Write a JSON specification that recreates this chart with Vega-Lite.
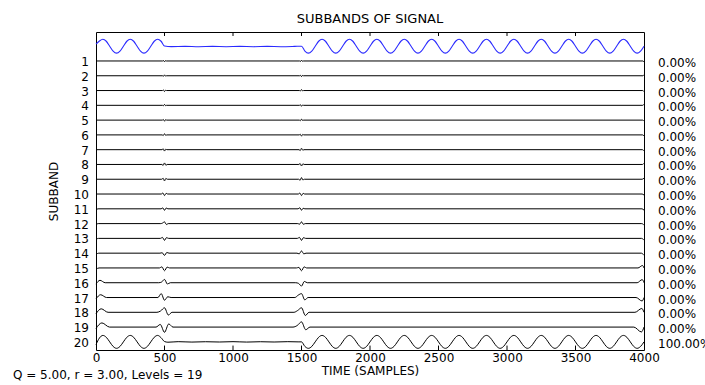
{
  "$schema": "https://vega.github.io/schema/vega-lite/v6.json",
  "autosize": {"type": "none"},
  "width": 548,
  "height": 318,
  "padding": {"left": 96, "top": 32, "right": 61, "bottom": 35},
  "background": "white",
  "title": {"text": "SUBBANDS OF SIGNAL", "anchor": "middle"},
  "datasets": {
    "signal": [
      {"b":0,"t":0,"v":0.3},{"b":0,"t":25,"v":0.75},{"b":0,"t":50,"v":1},{"b":0,"t":75,"v":0.71},
      {"b":0,"t":100,"v":0},{"b":0,"t":125,"v":-0.71},{"b":0,"t":150,"v":-1},{"b":0,"t":175,"v":-0.71},
      {"b":0,"t":200,"v":0},{"b":0,"t":225,"v":0.71},{"b":0,"t":250,"v":1},{"b":0,"t":275,"v":0.71},
      {"b":0,"t":300,"v":0},{"b":0,"t":325,"v":-0.71},{"b":0,"t":350,"v":-1},{"b":0,"t":375,"v":-0.71},
      {"b":0,"t":400,"v":0},{"b":0,"t":425,"v":0.71},{"b":0,"t":450,"v":1},{"b":0,"t":475,"v":0.71},
      {"b":0,"t":500,"v":0.02},
      {"b":0,"t":550,"v":-0.06},{"b":0,"t":650,"v":-0.02},{"b":0,"t":750,"v":-0.07},{"b":0,"t":850,"v":-0.03},
      {"b":0,"t":950,"v":-0.07},{"b":0,"t":1050,"v":-0.03},{"b":0,"t":1150,"v":-0.07},{"b":0,"t":1250,"v":-0.03},
      {"b":0,"t":1350,"v":-0.07},{"b":0,"t":1450,"v":-0.03},
      {"b":0,"t":1500,"v":0},{"b":0,"t":1525,"v":-0.71},{"b":0,"t":1550,"v":-1},{"b":0,"t":1575,"v":-0.71},
      {"b":0,"t":1600,"v":0},{"b":0,"t":1625,"v":0.71},{"b":0,"t":1650,"v":1},{"b":0,"t":1675,"v":0.71},
      {"b":0,"t":1700,"v":0},{"b":0,"t":1725,"v":-0.71},{"b":0,"t":1750,"v":-1},{"b":0,"t":1775,"v":-0.71},
      {"b":0,"t":1800,"v":0},{"b":0,"t":1825,"v":0.71},{"b":0,"t":1850,"v":1},{"b":0,"t":1875,"v":0.71},
      {"b":0,"t":1900,"v":0},{"b":0,"t":1925,"v":-0.71},{"b":0,"t":1950,"v":-1},{"b":0,"t":1975,"v":-0.71},
      {"b":0,"t":2000,"v":0},{"b":0,"t":2025,"v":0.71},{"b":0,"t":2050,"v":1},{"b":0,"t":2075,"v":0.71},
      {"b":0,"t":2100,"v":0},{"b":0,"t":2125,"v":-0.71},{"b":0,"t":2150,"v":-1},{"b":0,"t":2175,"v":-0.71},
      {"b":0,"t":2200,"v":0},{"b":0,"t":2225,"v":0.71},{"b":0,"t":2250,"v":1},{"b":0,"t":2275,"v":0.71},
      {"b":0,"t":2300,"v":0},{"b":0,"t":2325,"v":-0.71},{"b":0,"t":2350,"v":-1},{"b":0,"t":2375,"v":-0.71},
      {"b":0,"t":2400,"v":0},{"b":0,"t":2425,"v":0.71},{"b":0,"t":2450,"v":1},{"b":0,"t":2475,"v":0.71},
      {"b":0,"t":2500,"v":0},{"b":0,"t":2525,"v":-0.71},{"b":0,"t":2550,"v":-1},{"b":0,"t":2575,"v":-0.71},
      {"b":0,"t":2600,"v":0},{"b":0,"t":2625,"v":0.71},{"b":0,"t":2650,"v":1},{"b":0,"t":2675,"v":0.71},
      {"b":0,"t":2700,"v":0},{"b":0,"t":2725,"v":-0.71},{"b":0,"t":2750,"v":-1},{"b":0,"t":2775,"v":-0.71},
      {"b":0,"t":2800,"v":0},{"b":0,"t":2825,"v":0.71},{"b":0,"t":2850,"v":1},{"b":0,"t":2875,"v":0.71},
      {"b":0,"t":2900,"v":0},{"b":0,"t":2925,"v":-0.71},{"b":0,"t":2950,"v":-1},{"b":0,"t":2975,"v":-0.71},
      {"b":0,"t":3000,"v":0},{"b":0,"t":3025,"v":0.71},{"b":0,"t":3050,"v":1},{"b":0,"t":3075,"v":0.71},
      {"b":0,"t":3100,"v":0},{"b":0,"t":3125,"v":-0.71},{"b":0,"t":3150,"v":-1},{"b":0,"t":3175,"v":-0.71},
      {"b":0,"t":3200,"v":0},{"b":0,"t":3225,"v":0.71},{"b":0,"t":3250,"v":1},{"b":0,"t":3275,"v":0.71},
      {"b":0,"t":3300,"v":0},{"b":0,"t":3325,"v":-0.71},{"b":0,"t":3350,"v":-1},{"b":0,"t":3375,"v":-0.71},
      {"b":0,"t":3400,"v":0},{"b":0,"t":3425,"v":0.71},{"b":0,"t":3450,"v":1},{"b":0,"t":3475,"v":0.71},
      {"b":0,"t":3500,"v":0},{"b":0,"t":3525,"v":-0.71},{"b":0,"t":3550,"v":-1},{"b":0,"t":3575,"v":-0.71},
      {"b":0,"t":3600,"v":0},{"b":0,"t":3625,"v":0.71},{"b":0,"t":3650,"v":1},{"b":0,"t":3675,"v":0.71},
      {"b":0,"t":3700,"v":0},{"b":0,"t":3725,"v":-0.71},{"b":0,"t":3750,"v":-1},{"b":0,"t":3775,"v":-0.71},
      {"b":0,"t":3800,"v":0},{"b":0,"t":3825,"v":0.71},{"b":0,"t":3850,"v":1},{"b":0,"t":3875,"v":0.71},
      {"b":0,"t":3900,"v":0},{"b":0,"t":3925,"v":-0.71},{"b":0,"t":3950,"v":-1},{"b":0,"t":3975,"v":-0.71},
      {"b":0,"t":4000,"v":0}
    ],
    "bands": [
      {"b":1,"t":0,"v":0},{"b":1,"t":486,"v":0},{"b":1,"t":493,"v":0.07},{"b":1,"t":500,"v":-0.13},{"b":1,"t":507,"v":0.05},{"b":1,"t":514,"v":0},
      {"b":1,"t":1486,"v":0},{"b":1,"t":1493,"v":-0.07},{"b":1,"t":1500,"v":0.13},{"b":1,"t":1507,"v":-0.05},{"b":1,"t":1514,"v":0},
      {"b":1,"t":3992,"v":0},{"b":1,"t":4000,"v":-0.15},

      {"b":2,"t":0,"v":0},{"b":2,"t":486,"v":0},{"b":2,"t":493,"v":-0.07},{"b":2,"t":500,"v":0.13},{"b":2,"t":507,"v":-0.05},{"b":2,"t":514,"v":0},
      {"b":2,"t":1486,"v":0},{"b":2,"t":1493,"v":0.07},{"b":2,"t":1500,"v":-0.13},{"b":2,"t":1507,"v":0.05},{"b":2,"t":1514,"v":0},
      {"b":2,"t":3992,"v":0},{"b":2,"t":4000,"v":0.15},

      {"b":3,"t":0,"v":0},{"b":3,"t":485,"v":0},{"b":3,"t":492,"v":0.09},{"b":3,"t":500,"v":-0.14},{"b":3,"t":508,"v":0.05},{"b":3,"t":515,"v":0},
      {"b":3,"t":1485,"v":0},{"b":3,"t":1492,"v":-0.07},{"b":3,"t":1500,"v":0.14},{"b":3,"t":1508,"v":-0.05},{"b":3,"t":1515,"v":0},
      {"b":3,"t":3991,"v":0},{"b":3,"t":4000,"v":-0.15},

      {"b":4,"t":0,"v":0},{"b":4,"t":485,"v":0},{"b":4,"t":492,"v":-0.07},{"b":4,"t":500,"v":0.14},{"b":4,"t":508,"v":-0.05},{"b":4,"t":515,"v":0},
      {"b":4,"t":1485,"v":0},{"b":4,"t":1492,"v":0.09},{"b":4,"t":1500,"v":-0.14},{"b":4,"t":1508,"v":0.05},{"b":4,"t":1515,"v":0},
      {"b":4,"t":3991,"v":0},{"b":4,"t":4000,"v":0.15},

      {"b":5,"t":0,"v":0},{"b":5,"t":484,"v":0},{"b":5,"t":492,"v":0.09},{"b":5,"t":500,"v":-0.16},{"b":5,"t":508,"v":0.07},{"b":5,"t":516,"v":0},
      {"b":5,"t":1484,"v":0},{"b":5,"t":1492,"v":-0.09},{"b":5,"t":1500,"v":0.16},{"b":5,"t":1508,"v":-0.05},{"b":5,"t":1516,"v":0},
      {"b":5,"t":3990,"v":0},{"b":5,"t":4000,"v":-0.15},

      {"b":6,"t":0,"v":0},{"b":6,"t":483,"v":0},{"b":6,"t":491,"v":-0.09},{"b":6,"t":500,"v":0.18},{"b":6,"t":509,"v":-0.07},{"b":6,"t":517,"v":0},
      {"b":6,"t":1483,"v":0},{"b":6,"t":1491,"v":0.1},{"b":6,"t":1500,"v":-0.18},{"b":6,"t":1509,"v":0.07},{"b":6,"t":1517,"v":0},
      {"b":6,"t":3990,"v":0},{"b":6,"t":4000,"v":-0.16},

      {"b":7,"t":0,"v":0},{"b":7,"t":482,"v":0},{"b":7,"t":491,"v":0.12},{"b":7,"t":500,"v":-0.2},{"b":7,"t":509,"v":0.07},{"b":7,"t":518,"v":0},
      {"b":7,"t":1482,"v":0},{"b":7,"t":1491,"v":-0.12},{"b":7,"t":1500,"v":0.2},{"b":7,"t":1509,"v":-0.07},{"b":7,"t":1518,"v":0},
      {"b":7,"t":3989,"v":0},{"b":7,"t":4000,"v":-0.16},

      {"b":8,"t":0,"v":0},{"b":8,"t":481,"v":0},{"b":8,"t":490,"v":-0.13},{"b":8,"t":500,"v":0.22},{"b":8,"t":510,"v":-0.11},{"b":8,"t":519,"v":0},
      {"b":8,"t":1481,"v":0},{"b":8,"t":1490,"v":0.13},{"b":8,"t":1500,"v":-0.22},{"b":8,"t":1510,"v":0.09},{"b":8,"t":1519,"v":0},
      {"b":8,"t":3989,"v":0},{"b":8,"t":4000,"v":0.17},

      {"b":9,"t":0,"v":0},{"b":9,"t":479,"v":0},{"b":9,"t":490,"v":0.14},{"b":9,"t":500,"v":-0.24},{"b":9,"t":510,"v":0.12},{"b":9,"t":521,"v":0},
      {"b":9,"t":1479,"v":0},{"b":9,"t":1490,"v":-0.14},{"b":9,"t":1500,"v":0.24},{"b":9,"t":1510,"v":-0.1},{"b":9,"t":1521,"v":0},
      {"b":9,"t":3987,"v":0},{"b":9,"t":4000,"v":0.17},

      {"b":10,"t":0,"v":0},{"b":10,"t":477,"v":0},{"b":10,"t":488,"v":0.15},{"b":10,"t":500,"v":-0.22},{"b":10,"t":512,"v":0.1},{"b":10,"t":523,"v":0},
      {"b":10,"t":1477,"v":0},{"b":10,"t":1488,"v":0.14},{"b":10,"t":1500,"v":-0.22},{"b":10,"t":1512,"v":0.1},{"b":10,"t":1523,"v":0},
      {"b":10,"t":3986,"v":0},{"b":10,"t":4000,"v":-0.15},

      {"b":11,"t":0,"v":-0.15},{"b":11,"t":15,"v":0},{"b":11,"t":475,"v":0},{"b":11,"t":488,"v":0.13},{"b":11,"t":500,"v":-0.22},{"b":11,"t":512,"v":0.11},{"b":11,"t":525,"v":0},
      {"b":11,"t":1475,"v":0},{"b":11,"t":1488,"v":0.15},{"b":11,"t":1500,"v":-0.2},{"b":11,"t":1512,"v":0.07},{"b":11,"t":1525,"v":0},
      {"b":11,"t":3985,"v":0},{"b":11,"t":4000,"v":-0.2},

      {"b":12,"t":0,"v":-0.15},{"b":12,"t":16,"v":0},{"b":12,"t":473,"v":0},{"b":12,"t":486,"v":0.08},{"b":12,"t":500,"v":0.25},{"b":12,"t":514,"v":-0.13},{"b":12,"t":527,"v":0},
      {"b":12,"t":1473,"v":0},{"b":12,"t":1486,"v":-0.08},{"b":12,"t":1500,"v":0.25},{"b":12,"t":1514,"v":-0.1},{"b":12,"t":1527,"v":0},
      {"b":12,"t":3984,"v":0},{"b":12,"t":4000,"v":-0.22},

      {"b":13,"t":0,"v":-0.15},{"b":13,"t":18,"v":0},{"b":13,"t":470,"v":0},{"b":13,"t":485,"v":0.14},{"b":13,"t":500,"v":-0.28},{"b":13,"t":515,"v":0.11},{"b":13,"t":530,"v":0},
      {"b":13,"t":1470,"v":0},{"b":13,"t":1485,"v":0.14},{"b":13,"t":1500,"v":-0.28},{"b":13,"t":1515,"v":0.11},{"b":13,"t":1530,"v":0},
      {"b":13,"t":3982,"v":0},{"b":13,"t":4000,"v":-0.25},

      {"b":14,"t":0,"v":-0.18},{"b":14,"t":20,"v":0},{"b":14,"t":467,"v":0},{"b":14,"t":483,"v":0.06},{"b":14,"t":500,"v":-0.32},{"b":14,"t":517,"v":0.1},{"b":14,"t":533,"v":0},
      {"b":14,"t":1467,"v":0},{"b":14,"t":1483,"v":-0.1},{"b":14,"t":1500,"v":0.32},{"b":14,"t":1517,"v":-0.1},{"b":14,"t":1533,"v":0},
      {"b":14,"t":3980,"v":0},{"b":14,"t":4000,"v":-0.3},

      {"b":15,"t":0,"v":-0.2},{"b":15,"t":22,"v":0},{"b":15,"t":463,"v":0},{"b":15,"t":481,"v":0.16},{"b":15,"t":500,"v":-0.4},{"b":15,"t":519,"v":0.12},{"b":15,"t":537,"v":0},
      {"b":15,"t":1463,"v":0},{"b":15,"t":1481,"v":0.08},{"b":15,"t":1500,"v":-0.4},{"b":15,"t":1519,"v":0.16},{"b":15,"t":1537,"v":0},
      {"b":15,"t":3956,"v":0},{"b":15,"t":3989,"v":0.35},{"b":15,"t":4000,"v":0},

      {"b":16,"t":0,"v":-0.2},{"b":16,"t":29,"v":0.35},{"b":16,"t":67,"v":0},{"b":16,"t":458,"v":0},{"b":16,"t":479,"v":0.1},{"b":16,"t":500,"v":0.48},{"b":16,"t":521,"v":-0.19},{"b":16,"t":542,"v":0},
      {"b":16,"t":1458,"v":0},{"b":16,"t":1479,"v":-0.1},{"b":16,"t":1500,"v":-0.48},{"b":16,"t":1521,"v":0.19},{"b":16,"t":1542,"v":0},
      {"b":16,"t":3950,"v":0},{"b":16,"t":3987,"v":0.45},{"b":16,"t":4000,"v":0},

      {"b":17,"t":0,"v":-0.2},{"b":17,"t":34,"v":0.4},{"b":17,"t":77,"v":0},{"b":17,"t":452,"v":0},{"b":17,"t":476,"v":0.56},{"b":17,"t":500,"v":-0.39},{"b":17,"t":524,"v":0.11},{"b":17,"t":548,"v":0},
      {"b":17,"t":1452,"v":0},{"b":17,"t":1476,"v":0.34},{"b":17,"t":1500,"v":0.56},{"b":17,"t":1524,"v":-0.34},{"b":17,"t":1548,"v":0},
      {"b":17,"t":3942,"v":0},{"b":17,"t":3986,"v":-0.5},{"b":17,"t":4000,"v":0},

      {"b":18,"t":0,"v":-0.2},{"b":18,"t":38,"v":0.5},{"b":18,"t":88,"v":0},{"b":18,"t":445,"v":0},{"b":18,"t":472,"v":0.2},{"b":18,"t":500,"v":0.65},{"b":18,"t":528,"v":-0.39},{"b":18,"t":555,"v":0},
      {"b":18,"t":1445,"v":0},{"b":18,"t":1472,"v":0.26},{"b":18,"t":1500,"v":0.65},{"b":18,"t":1528,"v":-0.46},{"b":18,"t":1555,"v":0},
      {"b":18,"t":3934,"v":0},{"b":18,"t":3984,"v":0.55},{"b":18,"t":4000,"v":0},

      {"b":19,"t":0,"v":-0.2},{"b":19,"t":43,"v":0.6},{"b":19,"t":99,"v":0},{"b":19,"t":438,"v":0},{"b":19,"t":469,"v":0.38},{"b":19,"t":500,"v":-0.75},{"b":19,"t":531,"v":0.45},{"b":19,"t":562,"v":0},
      {"b":19,"t":1438,"v":0},{"b":19,"t":1469,"v":0.23},{"b":19,"t":1500,"v":0.75},{"b":19,"t":1531,"v":-0.38},{"b":19,"t":1562,"v":0},
      {"b":19,"t":3926,"v":0},{"b":19,"t":3981,"v":-0.7},{"b":19,"t":4000,"v":0},

      {"b":20,"t":0,"v":-0.4},{"b":20,"t":25,"v":0.55},{"b":20,"t":50,"v":0.93},{"b":20,"t":75,"v":0.66},
      {"b":20,"t":100,"v":0},{"b":20,"t":125,"v":-0.66},{"b":20,"t":150,"v":-0.93},{"b":20,"t":175,"v":-0.66},
      {"b":20,"t":200,"v":0},{"b":20,"t":225,"v":0.66},{"b":20,"t":250,"v":0.93},{"b":20,"t":275,"v":0.66},
      {"b":20,"t":300,"v":0},{"b":20,"t":325,"v":-0.66},{"b":20,"t":350,"v":-0.93},{"b":20,"t":375,"v":-0.66},
      {"b":20,"t":400,"v":0},{"b":20,"t":425,"v":0.66},{"b":20,"t":450,"v":0.93},{"b":20,"t":475,"v":0.6},
      {"b":20,"t":500,"v":0.05},{"b":20,"t":525,"v":-0.05},
      {"b":20,"t":600,"v":0.03},{"b":20,"t":700,"v":-0.03},{"b":20,"t":800,"v":0.02},{"b":20,"t":900,"v":-0.02},
      {"b":20,"t":1000,"v":0.03},{"b":20,"t":1100,"v":-0.03},{"b":20,"t":1200,"v":0.02},{"b":20,"t":1300,"v":-0.02},
      {"b":20,"t":1400,"v":0.03},{"b":20,"t":1475,"v":0},
      {"b":20,"t":1500,"v":0},{"b":20,"t":1525,"v":-0.66},{"b":20,"t":1550,"v":-0.93},{"b":20,"t":1575,"v":-0.66},
      {"b":20,"t":1600,"v":0},{"b":20,"t":1625,"v":0.66},{"b":20,"t":1650,"v":0.93},{"b":20,"t":1675,"v":0.66},
      {"b":20,"t":1700,"v":0},{"b":20,"t":1725,"v":-0.66},{"b":20,"t":1750,"v":-0.93},{"b":20,"t":1775,"v":-0.66},
      {"b":20,"t":1800,"v":0},{"b":20,"t":1825,"v":0.66},{"b":20,"t":1850,"v":0.93},{"b":20,"t":1875,"v":0.66},
      {"b":20,"t":1900,"v":0},{"b":20,"t":1925,"v":-0.66},{"b":20,"t":1950,"v":-0.93},{"b":20,"t":1975,"v":-0.66},
      {"b":20,"t":2000,"v":0},{"b":20,"t":2025,"v":0.66},{"b":20,"t":2050,"v":0.93},{"b":20,"t":2075,"v":0.66},
      {"b":20,"t":2100,"v":0},{"b":20,"t":2125,"v":-0.66},{"b":20,"t":2150,"v":-0.93},{"b":20,"t":2175,"v":-0.66},
      {"b":20,"t":2200,"v":0},{"b":20,"t":2225,"v":0.66},{"b":20,"t":2250,"v":0.93},{"b":20,"t":2275,"v":0.66},
      {"b":20,"t":2300,"v":0},{"b":20,"t":2325,"v":-0.66},{"b":20,"t":2350,"v":-0.93},{"b":20,"t":2375,"v":-0.66},
      {"b":20,"t":2400,"v":0},{"b":20,"t":2425,"v":0.66},{"b":20,"t":2450,"v":0.93},{"b":20,"t":2475,"v":0.66},
      {"b":20,"t":2500,"v":0},{"b":20,"t":2525,"v":-0.66},{"b":20,"t":2550,"v":-0.93},{"b":20,"t":2575,"v":-0.66},
      {"b":20,"t":2600,"v":0},{"b":20,"t":2625,"v":0.66},{"b":20,"t":2650,"v":0.93},{"b":20,"t":2675,"v":0.66},
      {"b":20,"t":2700,"v":0},{"b":20,"t":2725,"v":-0.66},{"b":20,"t":2750,"v":-0.93},{"b":20,"t":2775,"v":-0.66},
      {"b":20,"t":2800,"v":0},{"b":20,"t":2825,"v":0.66},{"b":20,"t":2850,"v":0.93},{"b":20,"t":2875,"v":0.66},
      {"b":20,"t":2900,"v":0},{"b":20,"t":2925,"v":-0.66},{"b":20,"t":2950,"v":-0.93},{"b":20,"t":2975,"v":-0.66},
      {"b":20,"t":3000,"v":0},{"b":20,"t":3025,"v":0.66},{"b":20,"t":3050,"v":0.93},{"b":20,"t":3075,"v":0.66},
      {"b":20,"t":3100,"v":0},{"b":20,"t":3125,"v":-0.66},{"b":20,"t":3150,"v":-0.93},{"b":20,"t":3175,"v":-0.66},
      {"b":20,"t":3200,"v":0},{"b":20,"t":3225,"v":0.66},{"b":20,"t":3250,"v":0.93},{"b":20,"t":3275,"v":0.66},
      {"b":20,"t":3300,"v":0},{"b":20,"t":3325,"v":-0.66},{"b":20,"t":3350,"v":-0.93},{"b":20,"t":3375,"v":-0.66},
      {"b":20,"t":3400,"v":0},{"b":20,"t":3425,"v":0.66},{"b":20,"t":3450,"v":0.93},{"b":20,"t":3475,"v":0.66},
      {"b":20,"t":3500,"v":0},{"b":20,"t":3525,"v":-0.66},{"b":20,"t":3550,"v":-0.93},{"b":20,"t":3575,"v":-0.66},
      {"b":20,"t":3600,"v":0},{"b":20,"t":3625,"v":0.66},{"b":20,"t":3650,"v":0.93},{"b":20,"t":3675,"v":0.66},
      {"b":20,"t":3700,"v":0},{"b":20,"t":3725,"v":-0.66},{"b":20,"t":3750,"v":-0.93},{"b":20,"t":3775,"v":-0.66},
      {"b":20,"t":3800,"v":0},{"b":20,"t":3825,"v":0.66},{"b":20,"t":3850,"v":0.93},{"b":20,"t":3875,"v":0.66},
      {"b":20,"t":3900,"v":0},{"b":20,"t":3925,"v":-0.66},{"b":20,"t":3950,"v":-0.93},{"b":20,"t":3975,"v":-0.66},
      {"b":20,"t":4000,"v":0}
    ],
    "ticks": [{"t":500},{"t":1000},{"t":1500},{"t":2000},{"t":2500},{"t":3000},{"t":3500}],
    "energy": [
      {"b":1,"pct":"0.00%"},{"b":2,"pct":"0.00%"},{"b":3,"pct":"0.00%"},{"b":4,"pct":"0.00%"},
      {"b":5,"pct":"0.00%"},{"b":6,"pct":"0.00%"},{"b":7,"pct":"0.00%"},{"b":8,"pct":"0.00%"},
      {"b":9,"pct":"0.00%"},{"b":10,"pct":"0.00%"},{"b":11,"pct":"0.00%"},{"b":12,"pct":"0.00%"},
      {"b":13,"pct":"0.00%"},{"b":14,"pct":"0.00%"},{"b":15,"pct":"0.00%"},{"b":16,"pct":"0.00%"},
      {"b":17,"pct":"0.00%"},{"b":18,"pct":"0.00%"},{"b":19,"pct":"0.00%"},{"b":20,"pct":"100.00%"}
    ],
    "params": [{"label": "Q = 5.00, r = 3.00, Levels = 19"}]
  },
  "layer": [
    {
      "data": {"name": "signal"},
      "transform": [{"calculate": "datum.b - 0.47 * datum.v", "as": "pos"}],
      "mark": {"type": "line", "color": "#2a2aff", "strokeWidth": 1.1, "interpolate": "monotone"},
      "encoding": {
        "x": {
          "field": "t", "type": "quantitative",
          "scale": {"domain": [0, 4000], "nice": false, "zero": false},
          "axis": {
            "values": [0, 500, 1000, 1500, 2000, 2500, 3000, 3500, 4000],
            "format": "d",
            "title": "TIME (SAMPLES)", "ticks": false, "domain": false, "grid": false,
            "labelPadding": 2, "labelFlush": false, "labelOverlap": false, "titlePadding": 2
          }
        },
        "y": {
          "field": "pos", "type": "quantitative",
          "scale": {"domain": [-0.96, 20.55], "nice": false, "zero": false, "reverse": true},
          "axis": {
            "title": "SUBBAND", "labels": false, "ticks": false, "tickSize": 0, "domain": false, "grid": false,
            "titlePadding": 36
          }
        }
      }
    },
    {
      "data": {"name": "bands"},
      "transform": [{"calculate": "datum.b - 0.47 * datum.v", "as": "pos"}],
      "mark": {"type": "line", "color": "#000000", "strokeWidth": 1, "interpolate": "monotone"},
      "encoding": {
        "x": {"field": "t", "type": "quantitative"},
        "y": {"field": "pos", "type": "quantitative"},
        "detail": {"field": "b", "type": "nominal"}
      }
    },
    {
      "data": {"name": "ticks"},
      "mark": {"type": "rule", "color": "#000000", "strokeWidth": 1},
      "encoding": {
        "x": {"field": "t", "type": "quantitative"},
        "y": {"datum": -0.96},
        "y2": {"datum": -0.69}
      }
    },
    {
      "data": {"name": "ticks"},
      "mark": {"type": "rule", "color": "#000000", "strokeWidth": 1},
      "encoding": {
        "x": {"field": "t", "type": "quantitative"},
        "y": {"datum": 20.55},
        "y2": {"datum": 20.25}
      }
    },
    {
      "data": {"name": "energy"},
      "mark": {"type": "text", "align": "right", "baseline": "middle", "dx": -7, "dy": 1, "font": "DejaVu Sans", "fontSize": 12, "color": "#000000"},
      "encoding": {
        "x": {"datum": 0},
        "y": {"field": "b", "type": "quantitative"},
        "text": {"field": "b", "type": "quantitative", "format": "d"}
      }
    },
    {
      "data": {"name": "energy"},
      "mark": {"type": "text", "align": "left", "baseline": "middle", "dx": 14, "dy": 2, "font": "DejaVu Sans", "fontSize": 12, "color": "#000000"},
      "encoding": {
        "x": {"datum": 4000},
        "y": {"field": "b", "type": "quantitative"},
        "text": {"field": "pct"}
      }
    },
    {
      "data": {"name": "params"},
      "mark": {"type": "text", "align": "left", "baseline": "alphabetic", "font": "DejaVu Sans", "fontSize": 12, "color": "#000000"},
      "encoding": {
        "x": {"datum": -606},
        "y": {"datum": 22.5},
        "text": {"field": "label"}
      }
    }
  ],
  "config": {
    "view": {"stroke": "#000000", "strokeWidth": 1},
    "axis": {
      "labelFont": "DejaVu Sans", "labelFontSize": 12, "labelColor": "#000000", "labelOverlap": false,
      "titleFont": "DejaVu Sans", "titleFontSize": 12, "titleFontWeight": "normal", "titleColor": "#000000"
    },
    "title": {"font": "DejaVu Sans", "fontSize": 13, "fontWeight": "normal", "color": "#000000", "offset": 6}
  }
}
